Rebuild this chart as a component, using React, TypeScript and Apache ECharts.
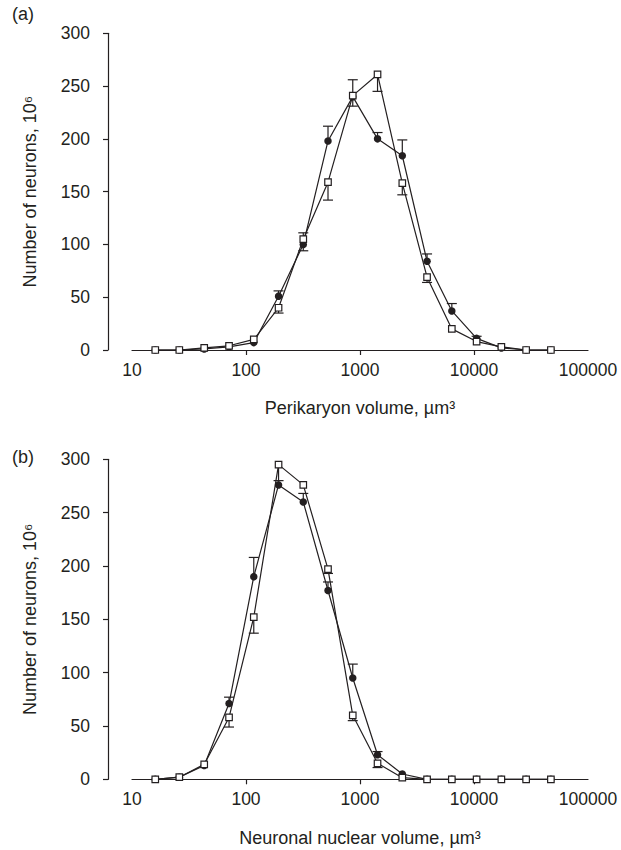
import React, { useEffect, useRef } from "react";
import * as echarts from "echarts";

// Bin centres (µm³), shared by both panels
const binCenters = [16, 26, 43, 71, 117, 193, 318, 524, 864, 1425, 2350, 3875, 6390, 10540, 17380, 28660, 47260];

// Panel (a): perikaryon volume
const circlesA = [0, 0, 1, 3, 7, 51, 100, 198, 240, 200, 184, 84, 37, 11, 2, 0, 0];
const squaresA = [0, 0, 2, 4, 10, 40, 105, 159, 241, 261, 158, 69, 20, 8, 3, 0, 0];
const circlesUpperA = [null, null, null, null, null, 56, 111, 212, 256, 206, 199, 91, 44, 13, null, null, null];
const squaresLowerA = [null, null, null, null, null, 35, 94, 142, 231, 245, 147, 64, null, null, null, null, null];

// Panel (b): neuronal nuclear volume
const circlesB = [0, 2, 13, 71, 190, 276, 260, 177, 95, 23, 5, 0, 0, 0, 0, 0, 0];
const squaresB = [0, 2, 14, 58, 152, 295, 276, 197, 60, 15, 1.5, 0, 0, 0, 0, 0, 0];
const circlesUpperB = [null, null, null, 77, 208, null, 268, 185, 108, 26, null, null, null, null, null, null, null];
const squaresLowerB = [null, null, null, 49, 137, 280, null, 193, 55, 11, null, null, null, null, null, null, null];

const yTicks = [0, 50, 100, 150, 200, 250, 300];
const xTickLabels = ["10", "100", "1000", "10000", "100000"];
const xTickMarks = [100, 1000, 10000];

const INK = "#231f20";
const FONT = "'Liberation Sans', Arial, Helvetica, sans-serif";

function pairs(vals: number[]) {
  return binCenters.map((x, i) => [x, vals[i]]);
}
function errPairs(vals: number[], ends: (number | null)[]) {
  const out: number[][] = [];
  binCenters.forEach((x, i) => {
    if (ends[i] !== null && ends[i] !== undefined) out.push([x, vals[i], ends[i] as number]);
  });
  return out;
}

const errRender = (params: any, api: any) => {
  const x = api.value(0);
  const p0 = api.coord([x, api.value(1)]);
  const p1 = api.coord([x, api.value(2)]);
  const st = { stroke: INK, lineWidth: 1.2 };
  return {
    type: "group",
    children: [
      { type: "line", shape: { x1: p0[0], y1: p0[1], x2: p1[0], y2: p1[1] }, style: st },
      { type: "line", shape: { x1: p1[0] - 5, y1: p1[1], x2: p1[0] + 5, y2: p1[1] }, style: st },
    ],
  };
};

function xAxisFor(idx: number, name: string, gap: number) {
  return {
    type: "log",
    gridIndex: idx,
    min: 10,
    max: 100000,
    logBase: 10,
    name,
    nameLocation: "middle",
    nameGap: gap,
    nameTextStyle: { fontFamily: FONT, fontSize: 18, color: INK },
    axisLine: { show: true, lineStyle: { color: INK, width: 1.2 } },
    axisTick: {
      show: true,
      inside: false,
      length: 5,
      customValues: xTickMarks,
      lineStyle: { color: INK, width: 1.2 },
    },
    minorTick: { show: false },
    splitLine: { show: false },
    axisLabel: {
      fontFamily: FONT,
      fontSize: 17.5,
      color: INK,
      margin: 11,
      formatter: (v: number) => {
        const s = String(Math.round(v));
        return xTickLabels.includes(s) ? s : "";
      },
    },
  };
}

function yAxisFor(idx: number) {
  return {
    type: "value",
    gridIndex: idx,
    min: yTicks[0],
    max: yTicks[yTicks.length - 1],
    interval: 50,
    offset: 24,
    name: "Number of neurons, 10⁶",
    nameLocation: "middle",
    nameGap: 69,
    nameRotate: 90,
    nameTextStyle: { fontFamily: FONT, fontSize: 18, color: INK },
    axisLine: { show: true, lineStyle: { color: INK, width: 1.2 } },
    axisTick: { show: true, inside: false, length: 5, lineStyle: { color: INK, width: 1.2 } },
    splitLine: { show: false },
    axisLabel: { fontFamily: FONT, fontSize: 17.5, color: INK, margin: 18 },
  };
}

function seriesFor(idx: number, circ: number[], sq: number[], cUp: (number | null)[], sLo: (number | null)[]) {
  return [
    {
      type: "custom",
      xAxisIndex: idx,
      yAxisIndex: idx,
      renderItem: errRender,
      data: errPairs(circ, cUp),
      encode: { x: 0, y: [1, 2] },
      z: 1,
      clip: false,
    },
    {
      type: "custom",
      xAxisIndex: idx,
      yAxisIndex: idx,
      renderItem: errRender,
      data: errPairs(sq, sLo),
      encode: { x: 0, y: [1, 2] },
      z: 1,
      clip: false,
    },
    {
      type: "line",
      xAxisIndex: idx,
      yAxisIndex: idx,
      data: pairs(circ),
      symbol: "circle",
      symbolSize: 7.5,
      showAllSymbol: true,
      clip: false,
      itemStyle: { color: INK, borderColor: INK, borderWidth: 0 },
      lineStyle: { color: INK, width: 1.2 },
      z: 2,
    },
    {
      type: "line",
      xAxisIndex: idx,
      yAxisIndex: idx,
      data: pairs(sq),
      symbol: "rect",
      symbolSize: 6.5,
      showAllSymbol: true,
      clip: false,
      itemStyle: { color: "#ffffff", borderColor: INK, borderWidth: 1.2 },
      lineStyle: { color: INK, width: 1.2 },
      z: 3,
    },
  ];
}

export default function App() {
  const ref = useRef<HTMLDivElement>(null);
  useEffect(() => {
    if (!ref.current) return;
    const chart = echarts.init(ref.current, undefined, { renderer: "svg" });
    chart.setOption({
      animation: false,
      backgroundColor: "#ffffff",
      grid: [
        { left: 132, top: 33.3, width: 456, height: 316.7, containLabel: false },
        { left: 132, top: 459.3, width: 456, height: 320, containLabel: false },
      ],
      xAxis: [
        xAxisFor(0, "Perikaryon volume, µm³", 49),
        xAxisFor(1, "Neuronal nuclear volume, µm³", 50),
      ],
      yAxis: [yAxisFor(0), yAxisFor(1)],
      series: [
        ...seriesFor(0, circlesA, squaresA, circlesUpperA, squaresLowerA),
        ...seriesFor(1, circlesB, squaresB, circlesUpperB, squaresLowerB),
      ],
      graphic: [
        { type: "text", left: 12, top: 5, style: { text: "(a)", fontFamily: FONT, fontSize: 18, fill: INK } },
        { type: "text", left: 12, top: 448, style: { text: "(b)", fontFamily: FONT, fontSize: 18, fill: INK } },
      ],
    });
    return () => chart.dispose();
  }, []);
  return (
    <div
      ref={ref}
      style={{ position: "absolute", left: 0, top: 0, width: 621, height: 850, background: "#fff" }}
    />
  );
}
